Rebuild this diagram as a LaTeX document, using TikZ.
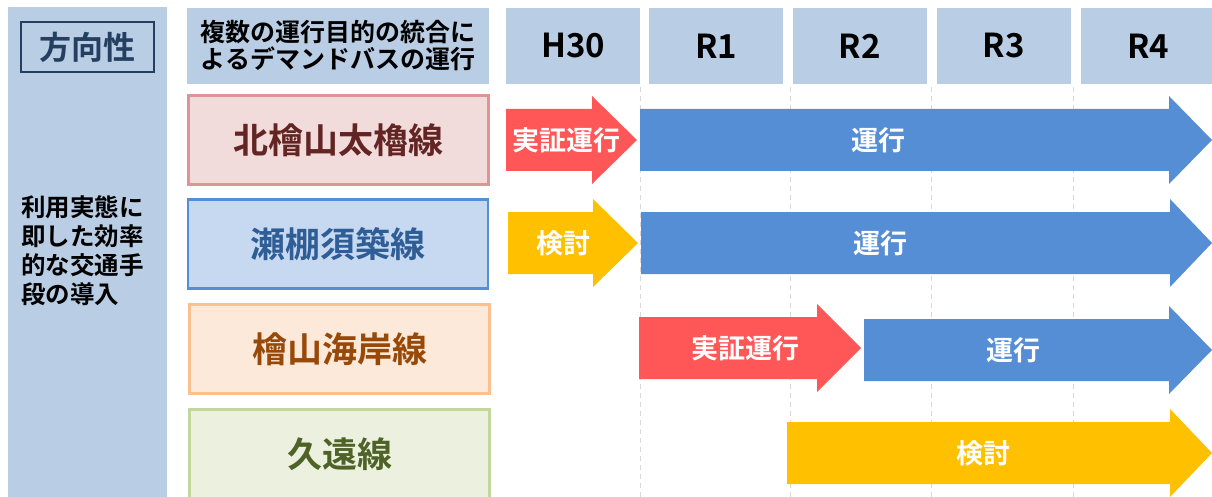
\documentclass[tikz,border=0pt]{standalone}
\usepackage{fontspec}
\setmainfont{Noto Sans CJK JP}[BoldFont={Noto Sans CJK JP Bold}]
\usepackage{tikz}
\usetikzlibrary{positioning}

\definecolor{panelblue}{HTML}{B9CDE5}
\definecolor{navy}{HTML}{243F60}
\definecolor{redfill}{HTML}{F2DCDB}
\definecolor{redline}{HTML}{D99694}
\definecolor{redtext}{HTML}{632523}
\definecolor{bluefill}{HTML}{C6D9F1}
\definecolor{blueline}{HTML}{558ED5}
\definecolor{bluetext}{HTML}{2F5D95}
\definecolor{orangefill}{HTML}{FDE9D9}
\definecolor{orangeline}{HTML}{FAC090}
\definecolor{orangetext}{HTML}{984807}
\definecolor{greenfill}{HTML}{EBF1DE}
\definecolor{greenline}{HTML}{C3D69B}
\definecolor{greentext}{HTML}{4F6228}
\definecolor{arrowred}{HTML}{FF5757}
\definecolor{arrowblue}{HTML}{558ED5}
\definecolor{arrowyellow}{HTML}{FFC000}
\definecolor{gridgray}{HTML}{D9D9D9}

\begin{document}
\begin{tikzpicture}[x=1pt, y=-1pt,
        headbox/.style={rectangle, fill=panelblue, inner sep=0pt, minimum width=134pt, minimum height=76pt,
            font=\bfseries\fontsize{33}{36}\selectfont},
        linebox/.style={rectangle, line width=2.5pt, inner sep=0pt, minimum width=300pt, minimum height=89pt,
            font=\bfseries\fontsize{35}{40}\selectfont},
        arrowlabel/.style={text=white, inner sep=0pt, font=\bfseries\fontsize{27}{30}\selectfont}]
        \useasboundingbox (0,0) rectangle (1212,497);
        \clip (0,0) rectangle (1212,497);

        % left column
        \fill [panelblue] (8,7) rectangle (167,500);
        \node [rectangle, draw=navy, line width=2.5pt, text=navy, inner sep=0pt, minimum width=133pt, minimum height=50pt,
            font=\bfseries\fontsize{32}{34}\selectfont] at (87.5,47) (houkou) {方向性};
        \node [anchor=west, align=left, inner sep=0pt, font=\bfseries\fontsize{24.5}{29}\selectfont]
            at (21,251) (naiyou) {利用実態に\\即した効率\\的な交通手\\段の導入};

        % header
        \node [headbox, minimum width=302pt, font=\bfseries\fontsize{25}{27}\selectfont, align=center]
            at (338,46) (mokuteki) {複数の運行目的の統合に\\よるデマンドバスの運行};
        \foreach \xc/\name/\yr in {573/h30/H30, 716/r1/R1, 859.5/r2/R2, 1003.5/r3/R3, 1148/r4/R4}
            \node [headbox] at (\xc,46) (\name) {\yr};

        % route names
        \node [linebox, fill=redfill, draw=redline, text=redtext] at (338.5,140) (kitahiyama) {北檜山太櫓線};
        \node [linebox, fill=bluefill, draw=blueline, text=bluetext] at (338,244) (setana) {瀬棚須築線};
        \node [linebox, fill=orangefill, draw=orangeline, text=orangetext] at (339.5,349) (kaigan) {檜山海岸線};
        \node [linebox, fill=greenfill, draw=greenline, text=greentext] at (339.5,454) (kudou) {久遠線};

        % year grid
        \foreach \xg in {640,790,931,1073}
            \draw [gridgray, line width=1pt, dash pattern=on 5pt off 4pt] (\xg,87) -- (\xg,500);

        % schedule arrows
        \foreach \xa/\xb/\xt/\yc/\col in {506/592/637/140/arrowred, 640/1169/1212/140/arrowblue,
                508/593/638/243/arrowyellow, 641/1170/1212/243/arrowblue,
                639/817/861/348/arrowred, 864/1169/1212/350/arrowblue,
                787/1170/1212/453/arrowyellow}
            \fill [\col] (\xa,{\yc-31}) -- (\xb,{\yc-31}) -- (\xb,{\yc-44}) -- (\xt,\yc)
                -- (\xb,{\yc+44}) -- (\xb,{\yc+31}) -- (\xa,{\yc+31}) -- cycle;

        \node [arrowlabel] at (566,140) (jisshou1) {実証運行};
        \node [arrowlabel] at (878,140) (unkou1) {運行};
        \node [arrowlabel] at (563,243) (kentou1) {検討};
        \node [arrowlabel] at (880,243) (unkou2) {運行};
        \node [arrowlabel] at (745,348) (jisshou2) {実証運行};
        \node [arrowlabel] at (1013,350) (unkou3) {運行};
        \node [arrowlabel] at (983,453) (kentou2) {検討};
    \end{tikzpicture}
\end{document}
